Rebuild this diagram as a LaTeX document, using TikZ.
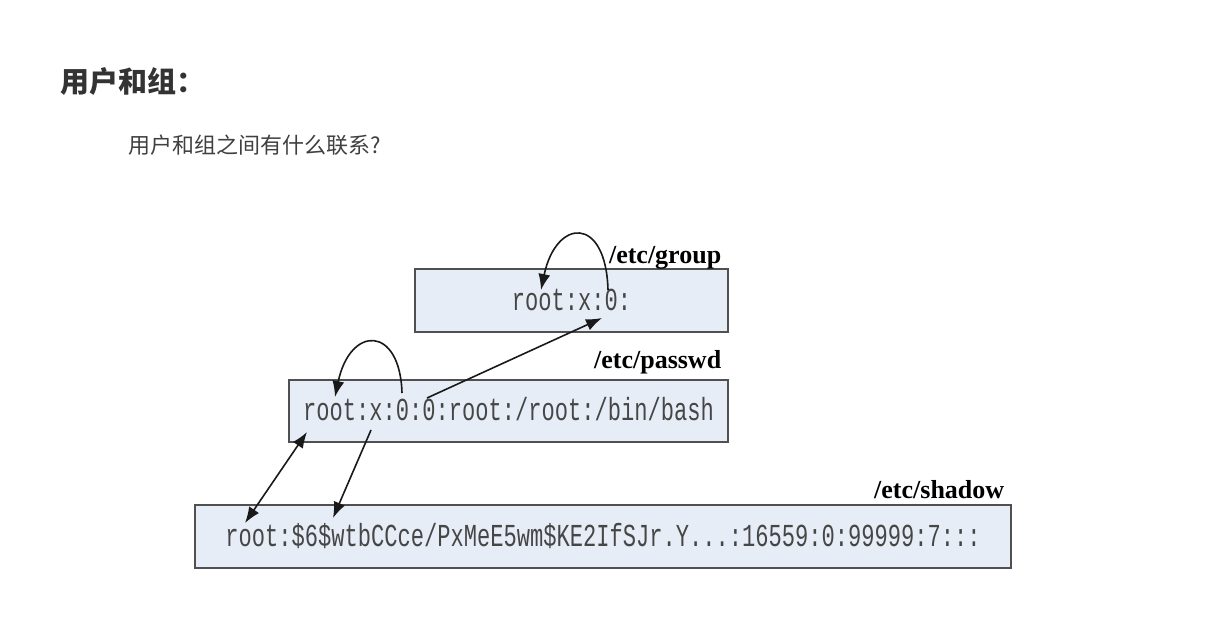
\documentclass[tikz,border=0pt]{standalone}
\usepackage{fontspec}
\usetikzlibrary{arrows.meta}
\setmainfont{Liberation Serif}
\newfontfamily\cjk{Noto Sans CJK SC}
\newfontfamily\filefont[FakeStretch=0.69]{Liberation Mono}
\definecolor{boxfill}{RGB}{231,237,246}
\definecolor{boxline}{RGB}{80,80,80}
\definecolor{inktext}{RGB}{70,70,70}
\begin{document}
\begin{tikzpicture}[x=0.5pt, y=-0.5pt, every node/.style = {inner sep=0pt}, line width=0.8pt, >={Latex[length=8pt,width=6pt]}]
	\tikzstyle{file} = [draw=boxline, fill=boxfill, line width=0.75pt, font=\filefont\fontsize{16}{18}\selectfont, text=inktext, text height=9.8pt, text depth=0pt]
	\tikzstyle{path} = [font=\bfseries\fontsize{13}{15}\selectfont, anchor=base east]
	\tikzstyle{link} = [draw=black!90, ->]
	\useasboundingbox (0,0) rectangle (1224,637);
	% headings
	\node[anchor=west, text=black!80, font=\cjk\bfseries\fontsize{14.5}{16}\selectfont] (title) at (60,82) {用户和组：};
	\node[anchor=west, text=black!75, font=\cjk\fontsize{11}{13}\selectfont] (question) at (128,145) {用户和组之间有什么联系?};
	% the three files
	\node[file, minimum width=156.5pt, minimum height=31.5pt] (grp) at (571.5,300.5) {root:x:0:};
	\node[file, minimum width=219.5pt, minimum height=31pt] (pwd) at (508.5,411) {root:x:0:0:root:/root:/bin/bash};
	\node[file, minimum width=408pt, minimum height=31.5pt] (shd) at (603,536.5) {root:\$6\$wtbCCce/PxMeE5wm\$KE2IfSJr.Y...:16559:0:99999:7:::};
	\node[path] (grplabel) at (722,263) {/etc/group};
	\node[path] (pwdlabel) at (722,368) {/etc/passwd};
	\node[path] (shdlabel) at (1005,498) {/etc/shadow};
	% field positions
	\coordinate (grpgid) at (608,290);
	\coordinate (grpname) at (541,290);
	\coordinate (grpin) at (602,318);
	\coordinate (pwduid) at (402,393);
	\coordinate (pwdname) at (335,397);
	\coordinate (pwdgid) at (427,398);
	\coordinate (pwdbot) at (307,432);
	\coordinate (pwdpass) at (371,430);
	\coordinate (shdname) at (245,523);
	\coordinate (shdpass) at (333,518);
	% links
	\draw[link] (grpgid) .. controls (606,215) and (556,218) .. (grpname);
	\draw[link] (pwduid) .. controls (400,325) and (350,325) .. (pwdname);
	\draw[link] (pwdgid) -- (grpin);
	\draw[link, <->] (pwdbot) -- (shdname);
	\draw[link] (pwdpass) -- (shdpass);
\end{tikzpicture}
\end{document}
